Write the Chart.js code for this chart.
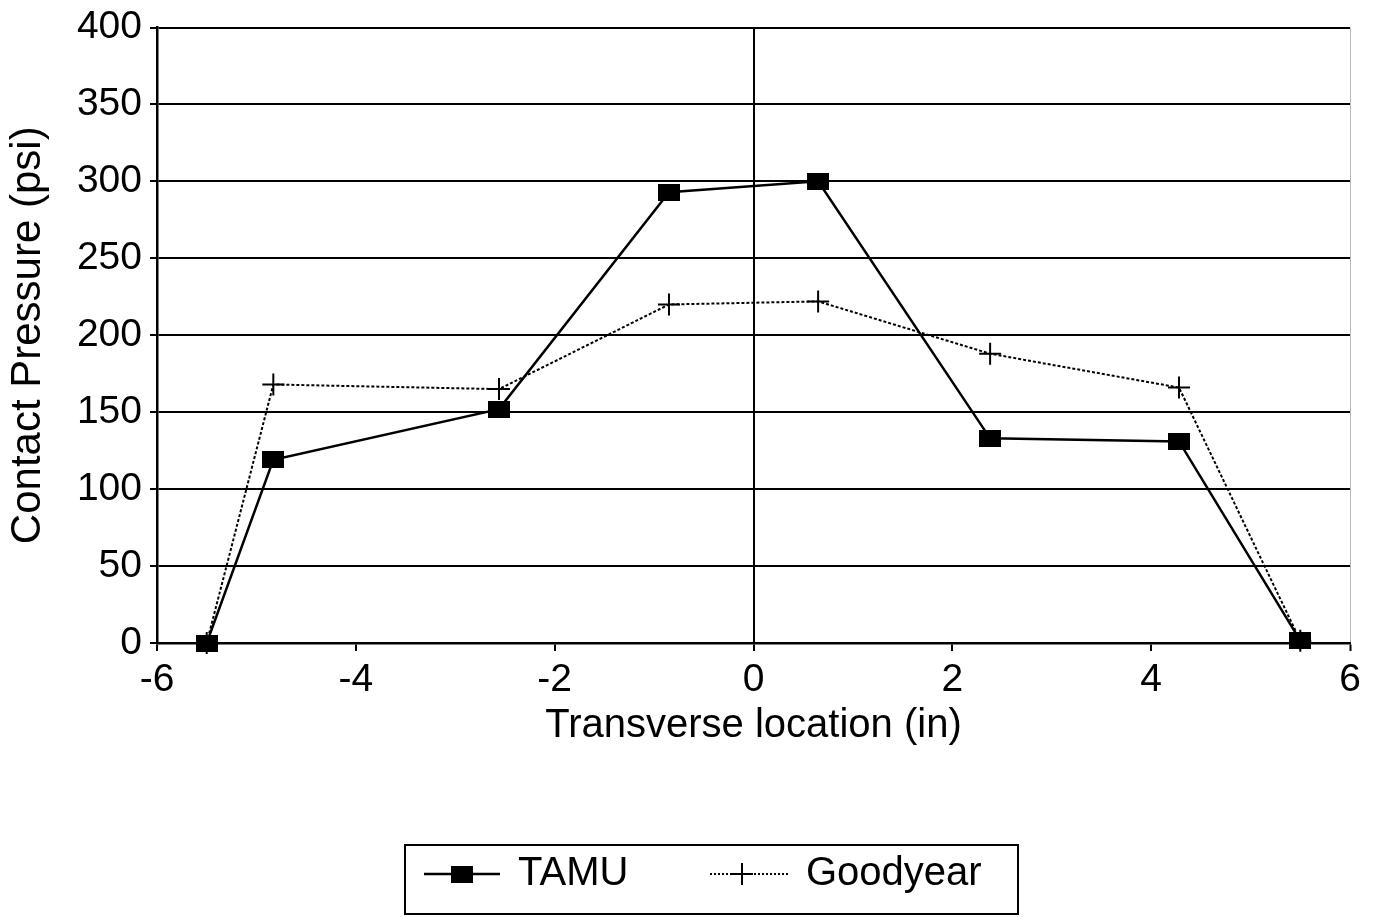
<!DOCTYPE html>
<html>
<head>
<meta charset="utf-8">
<title>Contact Pressure</title>
<script src="https://cdn.jsdelivr.net/npm/chart.js@4.4.0/dist/chart.umd.min.js"></script>
<style>
  html, body { margin: 0; padding: 0; background: #fff; }
  #wrap { width: 1381px; height: 917px; }
</style>
</head>
<body>
<div id="wrap"><canvas id="chart" width="1381" height="917"></canvas></div>
<script>
// Transverse location of each gauge (in)
const locations = [-5.5, -4.83, -2.56, -0.85, 0.65, 2.38, 4.28, 5.5];
// Contact pressure (psi)
const tamu = [0, 119, 152, 293, 300, 133, 131, 1.5];
const goodyear = [0, 168, 165, 220, 222, 188, 166, 1.5];
const xTicks = [-6, -4, -2, 0, 2, 4, 6];
const yTicks = [0, 50, 100, 150, 200, 250, 300, 350, 400];

const FONT = "'Liberation Sans', Arial, Helvetica, sans-serif";

// filled square marker, slightly wider than tall
function squareMarker(w, h) {
    const c = document.createElement('canvas');
    c.width = w;
    c.height = h;
    const g = c.getContext('2d');
    g.fillStyle = '#000';
    g.fillRect(0, 0, w, h);
    return c;
}
const square = squareMarker(22, 17);

function toPoints(values) {
    return values.map((v, i) => ({ x: locations[i], y: v }));
}

// boxed legend below the axis title
const boxLegend = {
    id: 'boxLegend',
    afterDraw(chart) {
        const ctx = chart.ctx;
        ctx.save();
        ctx.strokeStyle = '#000';
        ctx.lineWidth = 2;
        ctx.strokeRect(405, 845, 613, 69);

        const y = 874;
        // TAMU sample
        ctx.setLineDash([]);
        ctx.lineWidth = 2.5;
        ctx.beginPath();
        ctx.moveTo(424, y);
        ctx.lineTo(500, y);
        ctx.stroke();
        ctx.drawImage(square, 451, y - 8);

        // Goodyear sample
        ctx.lineWidth = 1.8;
        ctx.setLineDash([2, 2]);
        ctx.beginPath();
        ctx.moveTo(710, y);
        ctx.lineTo(790, y);
        ctx.stroke();
        ctx.setLineDash([]);
        ctx.lineWidth = 2;
        ctx.beginPath();
        ctx.moveTo(731, y);
        ctx.lineTo(753, y);
        ctx.moveTo(742, y - 11);
        ctx.lineTo(742, y + 11);
        ctx.stroke();

        ctx.fillStyle = '#000';
        ctx.font = '40px ' + FONT;
        ctx.textBaseline = 'middle';
        ctx.fillText(chart.data.datasets[0].label, 518, y);
        ctx.fillText(chart.data.datasets[1].label, 806, y);
        ctx.restore();
    }
};

new Chart(document.getElementById('chart'), {
    type: 'line',
    data: {
        datasets: [{
            label: 'TAMU',
            data: toPoints(tamu),
            borderColor: '#000',
            backgroundColor: '#000',
            borderWidth: 2.5,
            pointStyle: square,
            pointRadius: 11,
            clip: false,
            order: 1
        }, {
            label: 'Goodyear',
            data: toPoints(goodyear),
            borderColor: '#000',
            backgroundColor: '#000',
            borderWidth: 2,
            borderDash: [3, 2],
            pointStyle: 'cross',
            pointRadius: 11,
            pointBorderWidth: 2,
            clip: false,
            order: 2
        }]
    },
    options: {
        responsive: false,
        animation: false,
        layout: { padding: { left: 0, right: 31, top: 18, bottom: 157 } },
        plugins: {
            legend: { display: false },
            tooltip: { enabled: false }
        },
        scales: {
            x: {
                type: 'linear',
                min: -6,
                max: 6,
                afterBuildTicks: s => { s.ticks = xTicks.map(v => ({ value: v })); },
                afterFit: s => { s.height = 117; },
                ticks: {
                    color: '#000',
                    font: { family: FONT, size: 39 },
                    padding: 6,
                    maxRotation: 0
                },
                grid: {
                    color: c => c.tick && c.tick.value === 0 ? '#000' : (c.tick && c.tick.value === 6 ? '#bbb' : 'rgba(0,0,0,0)'),
                    lineWidth: c => c.tick && c.tick.value === 6 ? 1 : 2,
                    tickColor: '#000',
                    tickLength: 8,
                    tickWidth: 2
                },
                border: { display: true, color: '#000', width: 2.5 },
                title: {
                    display: true,
                    text: 'Transverse location (in)',
                    color: '#000',
                    font: { family: FONT, size: 40 },
                    padding: { top: 0, bottom: 10 }
                }
            },
            y: {
                min: 0,
                max: 400,
                afterBuildTicks: s => { s.ticks = yTicks.map(v => ({ value: v })); },
                afterFit: s => { s.width = 157; },
                ticks: {
                    color: '#000',
                    font: { family: FONT, size: 39, lineHeight: 1 },
                    padding: 8
                },
                grid: {
                    color: '#000',
                    lineWidth: 2,
                    tickLength: 7
                },
                border: { display: true, color: '#000', width: 2.5 },
                title: {
                    display: true,
                    text: 'Contact Pressure (psi)',
                    color: '#000',
                    font: { family: FONT, size: 42 },
                    padding: { top: 3, bottom: 0 }
                }
            }
        }
    },
    plugins: [boxLegend]
});
</script>
</body>
</html>
